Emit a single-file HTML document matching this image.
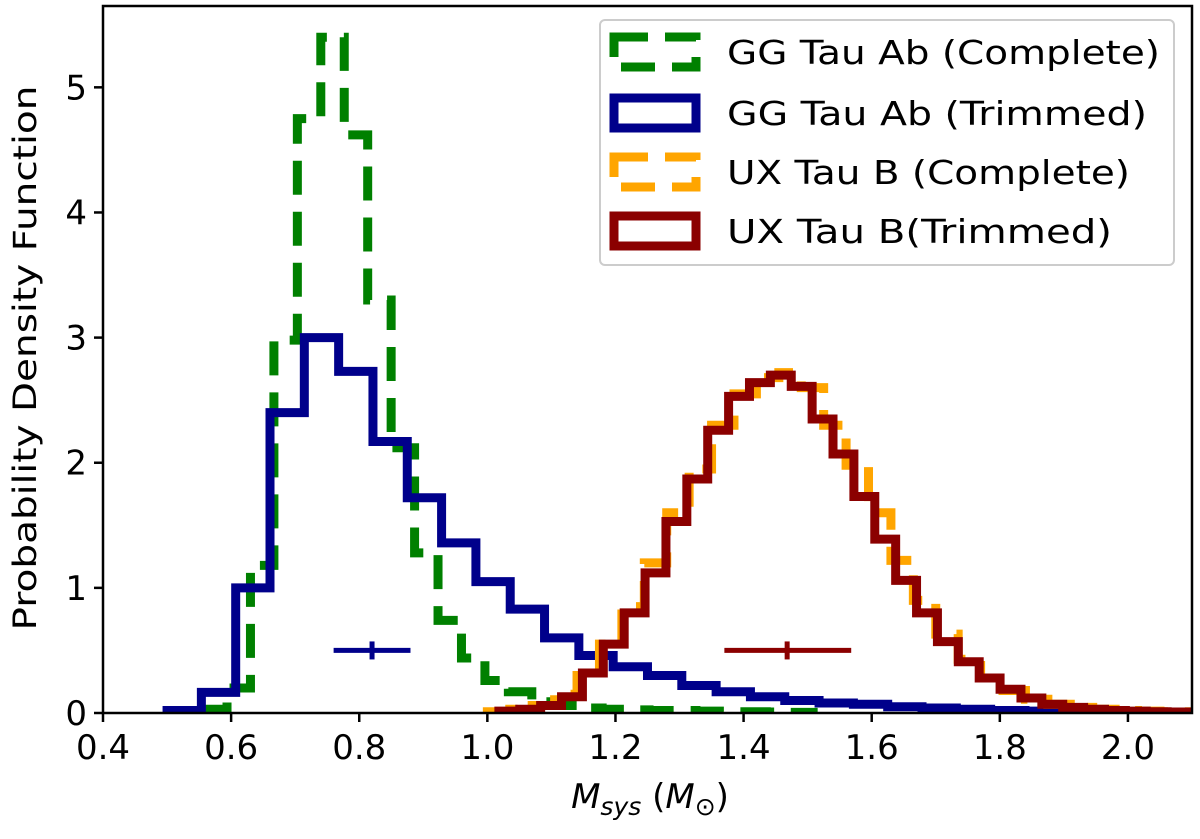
<!DOCTYPE html>
<html><head><meta charset="utf-8"><style>
body{margin:0;background:#fff}
svg text{font-family:"DejaVu Sans","Liberation Sans",sans-serif;fill:#000}
</style></head><body>
<svg id="chart" width="1200" height="834" xmlns="http://www.w3.org/2000/svg"></svg>
<script>
// ---- data ----
const ggTrimStart = 0.5, ggTrimWidth = 0.05357;
const ggTrimmed = [0.02,0.165,1.0,2.4,3.0,2.73,2.17,1.72,1.36,1.05,0.83,0.6,0.46,0.37,0.3,0.22,0.17,0.13,0.1,0.08,0.07,0.05,0.04,0.03,0.02,0.015,0.01,0.01];
const ggCompStart = 0.557, ggCompWidth = 0.0366;
const ggComplete = [0.03,0.2,1.18,2.98,4.75,5.4,4.62,3.3,2.12,1.28,0.74,0.44,0.26,0.17,0.09,0.06,0.04,0.03,0.025,0.02,0.02,0.015,0.01,0.01,0.008,0.005];
const uxTrimStart = 1.018, uxTrimWidth = 0.0326;
const uxTrimmed = [0.015,0.03,0.06,0.13,0.32,0.55,0.8,1.12,1.53,1.87,2.26,2.53,2.64,2.7,2.61,2.35,2.07,1.73,1.39,1.06,0.8,0.57,0.41,0.28,0.19,0.12,0.07,0.045,0.03,0.02,0.015,0.01,0.008];
const uxCompStart = 1.0, uxCompWidth = 0.035;
const uxComplete = [0.01,0.03,0.06,0.15,0.3,0.55,0.85,1.2,1.6,1.95,2.3,2.55,2.68,2.72,2.6,2.3,1.98,1.6,1.22,0.9,0.63,0.43,0.28,0.18,0.11,0.07,0.045,0.03,0.02,0.015,0.01,0.01];
const errGG = {x:0.82, lo:0.76, hi:0.88, y:0.5};
const errUX = {x:1.468, lo:1.37, hi:1.568, y:0.5};
const xTicks = [0.4,0.6,0.8,1.0,1.2,1.4,1.6,1.8,2.0];
const xTickLabels = ["0.4","0.6","0.8","1.0","1.2","1.4","1.6","1.8","2.0"];
const yTicks = [0,1,2,3,4,5];
const yTickLabels = ["0","1","2","3","4","5"];

// ---- axes ----
const L=103, R=1192, T=6, B=713, XMIN=0.4, XMAX=2.1, YMIN=0, YMAX=5.65;
const sx=v=>L+(v-XMIN)/(XMAX-XMIN)*(R-L);
const sy=v=>B-(v-YMIN)/(YMAX-YMIN)*(B-T);
const svg=document.getElementById('chart');
const NS='http://www.w3.org/2000/svg';
function mk(tag,attrs,parent){const e=document.createElementNS(NS,tag);for(const k in attrs)e.setAttribute(k,attrs[k]);(parent||svg).appendChild(e);return e;}

const clip=mk('clipPath',{id:'pc'});mk('rect',{x:L,y:T,width:R-L,height:B-T},clip);

function step(start,w,vals,color,dash,name){
  let d='M'+sx(start)+','+sy(0);
  vals.forEach((v,i)=>{d+=' L'+sx(start+i*w)+','+sy(v)+' L'+sx(start+(i+1)*w)+','+sy(v);});
  d+=' L'+sx(start+vals.length*w)+','+sy(0);
  const p=mk('path',{d:d,fill:'none',stroke:color,'stroke-width':9,'stroke-linejoin':'miter','clip-path':'url(#pc)'});
  if(dash)p.setAttribute('stroke-dasharray',dash);
  
  
}
step(ggCompStart,ggCompWidth,ggComplete,'#008000','34,17','gg-tau-complete-histogram');
step(ggTrimStart,ggTrimWidth,ggTrimmed,'#00008b',null,'gg-tau-trimmed-histogram');
step(uxCompStart,uxCompWidth,uxComplete,'#ffa500','34,17','ux-tau-complete-histogram');
step(uxTrimStart,uxTrimWidth,uxTrimmed,'#8b0000',null,'ux-tau-trimmed-histogram');

function err(e,color,name){
  const g=mk('g',{});
  
  
  mk('line',{x1:sx(e.lo),x2:sx(e.hi),y1:sy(e.y),y2:sy(e.y),stroke:color,'stroke-width':5},g);
  mk('line',{x1:sx(e.x),x2:sx(e.x),y1:sy(e.y)-9,y2:sy(e.y)+9,stroke:color,'stroke-width':5},g);
}
err(errGG,'#00008b','gg-tau-error-bar');
err(errUX,'#8b0000','ux-tau-error-bar');

// frame
const fr=mk('rect',{x:L,y:T,width:R-L,height:B-T,fill:'none',stroke:'#000','stroke-width':2.5});



xTicks.forEach((t,i)=>{
  mk('line',{x1:sx(t),x2:sx(t),y1:B,y2:B+9,stroke:'#000','stroke-width':2.5});
  const tx=mk('text',{x:sx(t),y:B+46,'font-size':34,'text-anchor':'middle'});
  tx.textContent=xTickLabels[i];
  
  
});
yTicks.forEach((t,i)=>{
  mk('line',{x1:L-9,x2:L,y1:sy(t),y2:sy(t),stroke:'#000','stroke-width':2.5});
  const tx=mk('text',{x:L-16,y:sy(t)+12,'font-size':34,'text-anchor':'end'});
  tx.textContent=yTickLabels[i];
  
  
});
</script>
<svg style="position:absolute;left:0;top:0" width="1200" height="834" xmlns="http://www.w3.org/2000/svg">
<text transform="translate(36,358) rotate(-90)" text-anchor="middle" font-size="32" textLength="545" lengthAdjust="spacingAndGlyphs" style="font-family:'DejaVu Sans',sans-serif">Probability Density Function</text>
<text x="650" y="808" text-anchor="middle" font-size="34" style="font-family:'DejaVu Sans',sans-serif"><tspan font-style="italic">M</tspan><tspan font-style="italic" font-size="25" dy="7">sys</tspan><tspan dy="-7"> (</tspan><tspan font-style="italic">M</tspan><tspan font-size="25" dy="7">⊙</tspan><tspan dy="-7">)</tspan></text>
<g>
<rect x="600" y="20" width="574" height="245" rx="5" fill="#fff" fill-opacity="0.85" stroke="#ccc" stroke-width="2"/>
<g>
<rect x="614" y="37" width="82" height="30" fill="none" stroke="#008000" stroke-width="9" stroke-dasharray="34,17"/>
<text x="727" y="64" font-size="33" textLength="433" lengthAdjust="spacingAndGlyphs">GG Tau Ab (Complete)</text></g>
<g>
<rect x="614" y="98" width="82" height="30" fill="none" stroke="#00008b" stroke-width="9"/>
<text x="727" y="125" font-size="33" textLength="420" lengthAdjust="spacingAndGlyphs">GG Tau Ab (Trimmed)</text></g>
<g>
<rect x="614" y="157" width="82" height="30" fill="none" stroke="#ffa500" stroke-width="9" stroke-dasharray="34,17"/>
<text x="727" y="184" font-size="33" textLength="403" lengthAdjust="spacingAndGlyphs">UX Tau B (Complete)</text></g>
<g>
<rect x="614" y="216" width="82" height="30" fill="none" stroke="#8b0000" stroke-width="9"/>
<text x="727" y="243" font-size="33" textLength="385" lengthAdjust="spacingAndGlyphs">UX Tau B(Trimmed)</text></g>
</g>
</svg>
</body></html>
